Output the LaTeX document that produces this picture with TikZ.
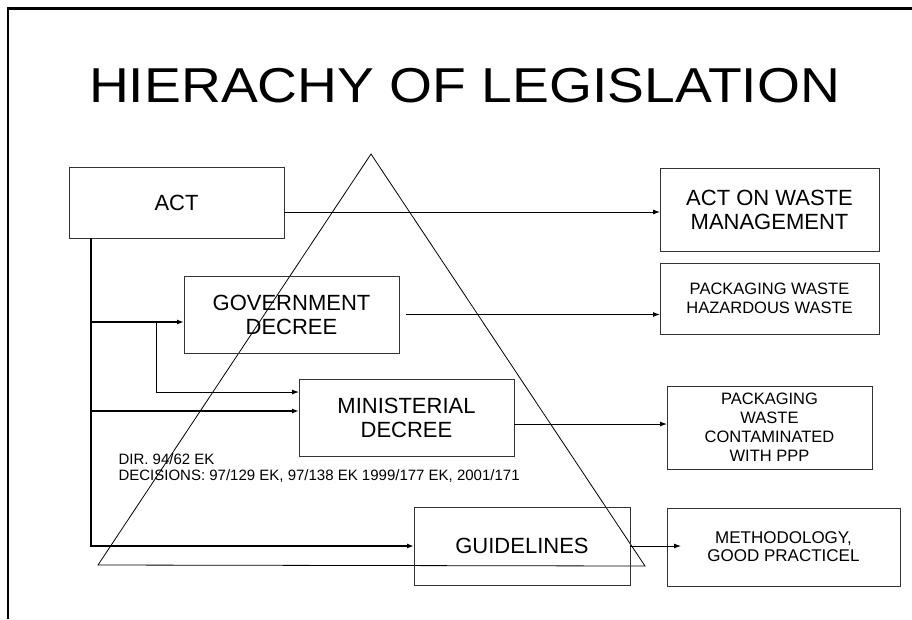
\documentclass[tikz,border=0pt]{standalone}
\usepackage{fontspec}
\setmainfont{Liberation Sans}
\usepackage{tikz}
\usetikzlibrary{arrows.meta, positioning}
\tikzset{
  levelnode/.style={draw=black!80, line width=0.9pt, rectangle, inner sep=0pt, outer sep=0pt, align=center, font=\fontsize{22}{24}\selectfont},
  topicnode/.style={draw=black!80, line width=0.9pt, rectangle, inner sep=0pt, outer sep=0pt, align=center, font=\fontsize{16.5}{19}\selectfont},
  arrow/.style={-{Latex[length=7pt,width=5pt]}, line width=0.9pt},
  busarrow/.style={-{Latex[length=7pt,width=5pt]}, line width=1.4pt},
  frameline/.style={line width=2.2pt}
}

\begin{document}
\begin{tikzpicture}[x=1pt, y=-1pt]
\useasboundingbox (0,0) rectangle (912,619);

% Frame and title
\draw[frameline] (7.8,619) -- (7.8,8.5) -- (912,8.5);
\node[font=\fontsize{49}{54}\selectfont, xscale=1.127, inner sep=0pt] (T) at (464.5,85.5) {HIERACHY OF LEGISLATION};

% Pyramid
\draw[line width=0.8pt] (371,154) -- (98,565) -- (645,566) -- cycle;

% Nodes
\node[levelnode, minimum width=215pt, minimum height=71pt] (ACT) at (176.5,202.5) {ACT};
\node[levelnode, minimum width=215pt, minimum height=77pt] (GD) at (291.5,314.5) {GOVERNMENT\\DECREE};
\node[levelnode, minimum width=215pt, minimum height=77pt] (MD) at (406.5,417.5) {MINISTERIAL\\DECREE};
\node[levelnode, minimum width=216pt, minimum height=78pt] (GL) at (522,546) {GUIDELINES};

\node[levelnode, minimum width=219pt, minimum height=83pt] (AWM) at (769.5,209.5) {ACT ON WASTE\\MANAGEMENT};
\node[topicnode, minimum width=219pt, minimum height=71pt] (PW) at (769.5,298.5) {PACKAGING WASTE\\HAZARDOUS WASTE};
\node[topicnode, minimum width=205pt, minimum height=83pt] (PPP) at (769.5,427.5) {PACKAGING\\WASTE\\CONTAMINATED\\WITH PPP};
\node[topicnode, font=\fontsize{17}{18}\selectfont, minimum width=233pt, minimum height=78pt] (MGP) at (783.5,547) {METHODOLOGY,\\GOOD PRACTICEL};

\node[anchor=base west, align=left, font=\fontsize{15}{16}\selectfont] (DIR) at (115,480) {DIR. 94/62 EK\\DECISIONS: 97/129 EK, 97/138 EK 1999/177 EK, 2001/171};

% Edges
\coordinate (J0) at ([xshift=22pt]ACT.south west);
\coordinate (GDin) at ([yshift=-7.5pt]GD.west);
\coordinate (J1) at ([xshift=-28pt]GDin);
\coordinate (MDin1) at ([yshift=25.5pt]MD.west);
\coordinate (MDin2) at ([yshift=6.5pt]MD.west);

\draw[busarrow] (J0) |- (GL.west);
\draw[busarrow] (J0 |- GDin) -- (GDin);
\draw[busarrow] (J0 |- MDin2) -- (MDin2);
\draw[arrow] (J1) |- (MDin1);

\draw[arrow] ([yshift=-9.5pt]ACT.east) -- ([yshift=-9.5pt]ACT.east -| AWM.west);
\draw[arrow] ([xshift=7pt]GD.east) -- (GD.east -| PW.west);
\draw[arrow] ([yshift=-6.5pt]MD.east) -- ([yshift=-6.5pt]MD.east -| PPP.west);
\draw[arrow] (GL.east) -- ([xshift=14pt]GL.east -| MGP.west);

\end{tikzpicture}
\end{document}
